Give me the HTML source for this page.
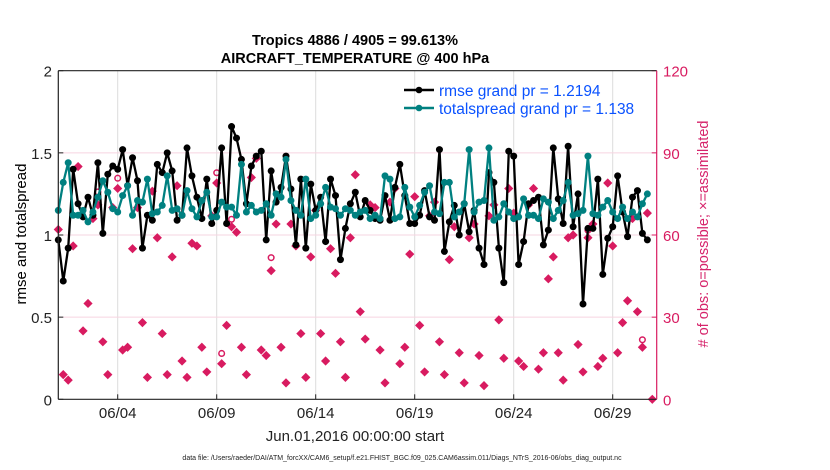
<!DOCTYPE html>
<html><head><meta charset="utf-8">
<style>
html,body{margin:0;padding:0;background:#fff;}
svg{display:block;font-family:"Liberation Sans",Arial,sans-serif;}
</style></head>
<body>
<svg id="chart" width="830" height="470" viewBox="0 0 830 470" xmlns="http://www.w3.org/2000/svg">
<rect x="0" y="0" width="830" height="470" fill="#fff"/>
<text x="355" y="45" text-anchor="middle" font-size="14.5" font-weight="bold" fill="#000">Tropics 4886 / 4905 = 99.613%</text>
<text x="355" y="63" text-anchor="middle" font-size="14.5" font-weight="bold" fill="#000">AIRCRAFT_TEMPERATURE @ 400 hPa</text>
<g id="grid"></g>
<g id="obs"></g>
<g id="lines"></g>
<g id="axes"></g>
<text transform="translate(26,234) rotate(-90)" text-anchor="middle" font-size="15" fill="#000">rmse and totalspread</text>
<text transform="translate(708,234) rotate(-90)" text-anchor="middle" font-size="14.5" fill="#d6246b"># of obs: o=possible; ×=assimilated</text>
<text x="355" y="441" text-anchor="middle" font-size="15" fill="#222">Jun.01,2016 00:00:00 start</text>
<text x="402" y="460" text-anchor="middle" font-size="7" fill="#222">data file: /Users/raeder/DAI/ATM_forcXX/CAM6_setup/f.e21.FHIST_BGC.f09_025.CAM6assim.011/Diags_NTrS_2016-06/obs_diag_output.nc</text>
<g>
<line x1="404" y1="90" x2="434" y2="90" stroke="#000" stroke-width="2.5"/>
<circle cx="419" cy="90" r="3.3" fill="#000"/>
<text x="439" y="96" font-size="15.5" fill="#0a52ff">rmse grand pr = 1.2194</text>
<line x1="404" y1="108" x2="434" y2="108" stroke="#008080" stroke-width="2.5"/>
<circle cx="419" cy="108" r="3.3" fill="#008080"/>
<text x="439" y="114" font-size="15.5" fill="#0a52ff">totalspread grand pr = 1.138</text>
</g>
</svg>
<script>
const rmse=[0.97,0.72,0.92,1.40,1.19,1.11,1.23,1.12,1.44,1.01,1.37,1.42,1.40,1.52,1.30,1.47,1.33,0.92,1.12,1.09,1.43,1.38,1.50,1.39,1.09,1.12,1.53,1.36,1.23,1.10,1.34,
1.07,1.15,1.53,1.07,1.66,1.59,1.46,1.19,1.42,1.48,1.51,0.97,1.39,1.20,1.29,1.48,1.28,0.94,1.34,0.92,1.31,1.15,1.23,0.96,1.34,1.24,0.85,1.04,1.19,1.26,
1.11,1.21,1.15,1.10,1.09,1.24,1.09,1.29,1.43,1.24,1.07,1.07,1.12,1.27,1.11,1.09,1.52,0.90,1.08,1.18,1.00,1.19,1.02,1.15,0.92,0.82,1.38,1.32,0.92,0.71,1.51,
1.48,0.82,0.96,1.19,1.21,1.23,0.94,1.03,1.53,1.22,1.07,1.54,1.05,1.25,0.58,1.04,1.04,1.34,0.76,0.98,1.05,1.36,1.14,0.99,1.23,1.27,1.01,0.97];
const spread=[1.15,1.32,1.44,1.12,1.12,1.15,1.08,1.14,1.23,1.33,1.26,1.16,1.14,1.24,1.30,1.12,1.21,1.20,1.34,1.13,1.14,1.18,1.36,1.15,1.16,1.12,1.27,1.16,1.11,1.21,1.26,
1.11,1.11,1.20,1.17,1.17,1.12,1.43,1.14,1.18,1.14,1.15,1.19,1.12,1.25,1.23,1.46,1.21,1.15,1.12,1.34,1.10,1.12,1.19,1.29,1.17,1.16,1.12,1.16,1.15,1.12,
1.14,1.15,1.10,1.12,1.10,1.36,1.34,1.10,1.11,1.29,1.17,1.11,1.18,1.26,1.30,1.14,1.13,1.32,1.32,1.11,1.14,1.19,1.52,1.14,1.20,1.21,1.53,1.09,1.11,1.19,1.14,
1.10,1.11,1.22,1.12,1.12,1.10,1.22,1.20,1.10,1.15,1.21,1.32,1.12,1.13,1.15,1.48,1.13,1.12,1.17,1.21,1.14,1.10,1.17,1.10,1.14,1.11,1.19,1.25];
const obsAssim=[62,9,7,56,85,25,35,66,71,21,9,70,77,18,19,55,70,28,8,76,59,24,9,52,78,14,8,57,56,19,10,
67,79,13,27,63,61,19,9,81,88,18,16,47,64,19,6,64,56,24,8,52,69,24,14,55,46,21,8,59,82,
32,22,71,70,18,6,72,77,13,19,53,74,27,10,67,72,21,9,51,63,17,6,59,64,16,5,67,71,29,15,
77,68,14,12,71,77,11,17,44,52,17,7,59,60,20,10,59,64,12,15,79,56,17,28,36,66,32,19,68,0];
const obsPossDiff=[0,0,0,0,0,0,0,0,4,0,0,0,3,0,0,0,0,0,0,0,0,0,0,0,0,0,0,0,0,0,0,
0,3,3,0,2,0,0,0,0,0,0,0,4,0,0,0,0,0,0,0,0,0,0,0,0,0,0,0,0,0,
0,0,0,0,0,0,0,0,0,0,0,0,0,0,0,0,0,0,0,0,0,0,0,0,0,0,0,0,0,0,
0,0,0,0,0,0,0,0,0,0,0,0,0,0,0,0,2,0,0,0,0,0,0,0,0,0,0,2,0,0];
const xTickDays=[3,8,13,18,23,28];
const xTickLabels=["06/04","06/09","06/14","06/19","06/24","06/29"];
const yTicks=[0,0.5,1,1.5,2];
const yTickLabels=["0","0.5","1","1.5","2"];
const rTicks=[0,30,60,90,120];
const rTickLabels=["0","30","60","90","120"];

const NS="http://www.w3.org/2000/svg";
const L=58.3,R=656.7,T=70.7,B=399.3;
const dayPx=19.8;
const xS=d=>L+d*dayPx;
const yS=v=>B-(v/2)*(B-T);
const rS=v=>B-(v/120)*(B-T);
const PINK="#d81b60";
function mk(tag,attrs,parent){const e=document.createElementNS(NS,tag);for(const k in attrs)e.setAttribute(k,attrs[k]);parent.appendChild(e);return e;}
const grid=document.getElementById('grid'),axes=document.getElementById('axes'),obsG=document.getElementById('obs'),lines=document.getElementById('lines');

xTickDays.forEach((d,i)=>{
  const x=xS(d);
  const g=mk('line',{x1:x,y1:T,x2:x,y2:B,stroke:'#dcdcdc','stroke-width':1},grid);
  
  
  const t=mk('line',{x1:x,y1:B,x2:x,y2:B-5,stroke:'#222','stroke-width':1},axes);
  
  
  const lb=mk('text',{x:x,y:418,'text-anchor':'middle','font-size':15,fill:'#222'},axes);
  lb.textContent=xTickLabels[i];
  
  
});
rTicks.forEach((v,i)=>{
  const y=rS(v);
  if(v>0&&v<120){
    const g=mk('line',{x1:L,y1:y,x2:R,y2:y,stroke:'#f6d4e0','stroke-width':1},grid);
    
    
  }
  const t=mk('line',{x1:R,y1:y,x2:R-5,y2:y,stroke:PINK,'stroke-width':1},axes);
  
  
  const lb=mk('text',{x:663,y:y+6,'font-size':15,fill:PINK},axes);
  lb.textContent=rTickLabels[i];
  
  
});
yTicks.forEach((v,i)=>{
  const y=yS(v);
  const t=mk('line',{x1:L,y1:y,x2:L+5,y2:y,stroke:'#222','stroke-width':1},axes);
  
  
  const lb=mk('text',{x:52,y:y+6,'text-anchor':'end','font-size':15,fill:'#222'},axes);
  lb.textContent=yTickLabels[i];
  
  
});
const lax=mk('line',{x1:L,y1:T,x2:L,y2:B,stroke:'#222','stroke-width':1.2},axes);


const tax=mk('line',{x1:L,y1:T,x2:R,y2:T,stroke:'#222','stroke-width':1.2},axes);


const bax=mk('line',{x1:L,y1:B,x2:R,y2:B,stroke:'#222','stroke-width':1.2},axes);


const rax=mk('line',{x1:R,y1:T,x2:R,y2:B,stroke:PINK,'stroke-width':1.2},axes);



obsAssim.forEach((v,i)=>{
  const x=xS(i*0.25),y=rS(v),s=4.6;
  const d=mk('path',{d:`M${x} ${y-s}L${x+s} ${y}L${x} ${y+s}L${x-s} ${y}Z`,fill:PINK},obsG);
  
  
  const p=v+obsPossDiff[i];
  if(obsPossDiff[i]>0){
    const c=mk('circle',{cx:x,cy:rS(p)-2,r:2.8,fill:'none',stroke:PINK,'stroke-width':1.5},obsG);
    
    
  }
});

function drawSeries(arr,color,name){
  const pts=arr.map((v,i)=>xS(i*0.25).toFixed(1)+','+yS(v).toFixed(1)).join(' ');
  const pl=mk('polyline',{points:pts,fill:'none',stroke:color,'stroke-width':2.3,'stroke-linejoin':'round'},lines);
  
  
  arr.forEach((v,i)=>{
    const c=mk('circle',{cx:xS(i*0.25),cy:yS(v),r:3.5,fill:color},lines);
    
    
  });
}
drawSeries(rmse,'#000','rmse');
drawSeries(spread,'#008080','totalspread');
</script>
</body></html>
